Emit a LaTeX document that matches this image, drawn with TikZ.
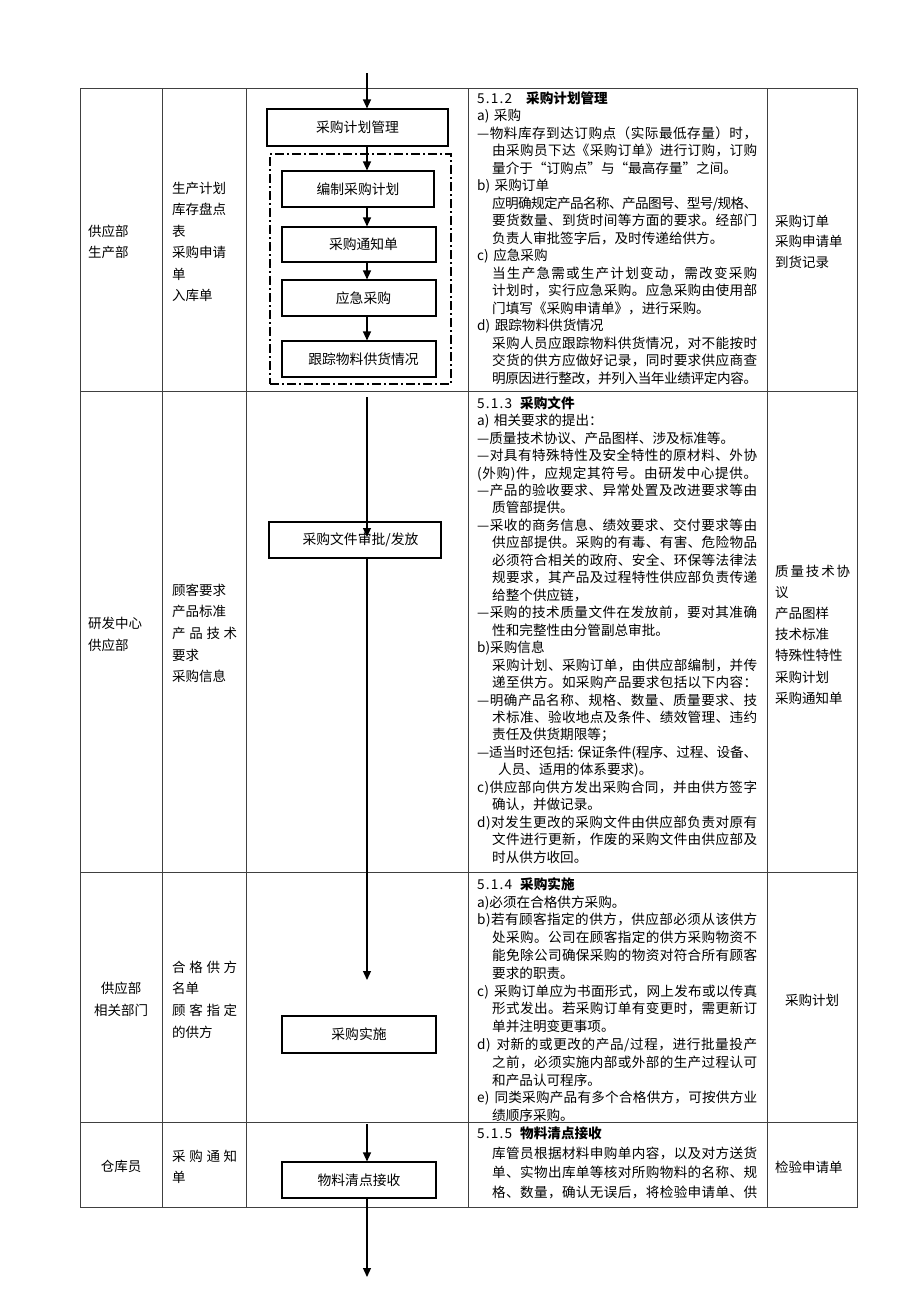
\documentclass[tikz,border=0pt]{standalone}
\usepackage{fontspec}
\setmainfont{Noto Sans CJK SC}
\usetikzlibrary{arrows.meta}
\makeatletter
\def\jbox#1{\jb@first#1\@nil}
\def\jb@first#1{#1\jb@loop}
\def\jb@loop#1{\ifx#1\@nil\else\hskip0pt plus 1fil minus 3pt\relax#1\expandafter\jb@loop\fi}
\makeatother
\newcommand\JF[1]{\leavevmode\hbox to 280pt{\jbox{#1}}}
\newcommand\JI[1]{\leavevmode\hspace*{15pt}\hbox to 265pt{\jbox{#1}}}
\newcommand\NF[1]{\leavevmode#1}
\newcommand\NI[1]{\leavevmode\hspace*{15pt}#1}
\newcommand\SP[2]{\leavevmode\hbox to #1{#2}}
\newcommand\hf{\hfill{}}
\newcommand\secno[3]{\leavevmode\hbox to #1{\hbox to 35pt{\jbox{#2}}\hfil}\textbf{#3}}
\begin{document}
\begin{tikzpicture}[x=1pt,y=-1pt,
  grid/.style={draw=black!75, line width=0.9pt},
  box/.style={draw, line width=1.1pt, inner sep=0, minimum width=154pt, minimum height=36pt, font=\fontsize{13.8}{16}\selectfont},
  dashbox/.style={draw, line width=1.2pt, dash pattern=on 9pt off 3pt on 2pt off 3pt, inner sep=0},
  arr/.style={-{Triangle[length=9pt,width=8pt]}, line width=1.2pt},
  body/.style={anchor=base west, inner sep=0, text width=300pt, align=left, font=\fontsize{13.6}{#1}\selectfont},
  side/.style={anchor=base west, inner sep=0, text width=85pt, align=left, font=\fontsize{13.5}{#1}\selectfont},
  sidec/.style={anchor=base, inner sep=0, text width=82pt, align=center, font=\fontsize{13.5}{#1}\selectfont}]
\useasboundingbox (0,0) rectangle (920,1302);
% table grid
\draw[grid] (80,88) rectangle (857,1207);
\foreach \x in {162,246,468,767} \draw[grid] (\x,88) -- (\x,1207);
\foreach \y in {391,872,1122} \draw[grid] (80,\y) -- (857,\y);

% flow boxes
\coordinate (ax) at (367,0);
\node[box, minimum width=181pt, minimum height=37pt] (b0) at (357.5,127.5) {采购计划管理};
\node[dashbox, minimum width=181pt, minimum height=230pt] (grp) at (360.5,269) {};
\node[box, minimum width=152pt] (b1) at (358,189) {编制采购计划};
\node[box, minimum height=35pt] (b2) at (359,244.5) {\hspace*{9pt}采购通知单};
\node[box] (b3) at (359,298) {\hspace*{9pt}应急采购};
\node[box] (b4) at (359,359) {\hspace*{9pt}跟踪物料供货情况};
\node[box, minimum width=172pt] (b5) at (355,540) {\hspace*{11pt}采购文件审批/发放};
\node[box, minimum height=37pt] (b6) at (359,1034.5) {采购实施};
\node[box] (b7) at (359,1180) {物料清点接收};

% arrows
\coordinate (s0) at (367,73);
\coordinate (s5) at (367,397);
\coordinate (e5) at (367,537);
\coordinate (e6) at (367,980);
\coordinate (s7) at (367,1124);
\coordinate (e8) at (367,1277);
\draw[arr] (s0) -- (b0.north -| ax);
\draw[arr] (b0.south -| ax) -- (b1.north -| ax);
\draw[arr] (b1.south -| ax) -- (b2.north -| ax);
\draw[arr] (b2.south -| ax) -- (b3.north -| ax);
\draw[arr] (b3.south -| ax) -- (b4.north -| ax);
\draw[arr] (s5) -- (e5);
\draw[arr] (b5.south -| ax) -- (e6);
\draw[arr] (s7) -- (b7.north -| ax);
\draw[arr] (b7.south -| ax) -- (e8);

% row 1 side texts
\node[side=21] (c11) at (88,236) {供应部\\生产部};
\node[side=21.5] (c12) at (172,193) {生产计划\\库存盘点\\表\\采购申请\\单\\入库单};
\node[side=20.7] (c15) at (775,226) {采购订单\\采购申请单\\到货记录};
% row 2 side texts
\node[side=22] (c21) at (88,628) {研发中心\\供应部};
\node[side=21.7] (c22) at (172,595) {顾客要求\\产品标准\\\SP{65pt}{产\hf 品\hf 技\hf 术}\\要求\\采购信息};
\node[side=21.2] (c25) at (775,576) {\SP{75pt}{质\hf 量\hf 技\hf 术\hf 协}\\议\\产品图样\\技术标准\\特殊性特性\\采购计划\\采购通知单};
% row 3 side texts
\node[sidec=22] (c31) at (121,993) {供应部\\相关部门};
\node[side=21.7] (c32) at (172,972) {\SP{65pt}{合\hf 格\hf 供\hf 方}\\名单\\\SP{65pt}{顾\hf 客\hf 指\hf 定}\\的供方};
\node[sidec=20] (c35) at (812,1005) {采购计划};
% row 4 side texts
\node[sidec=20] (c41) at (121,1171) {仓库员};
\node[side=21] (c42) at (172,1161) {\SP{65pt}{采\hf 购\hf 通\hf 知}\\单};
\node[side=20] (c45) at (775,1172) {检验申请单};

% row 1 body
\node[body=17.5] (t1) at (477,103.2) {\secno{49pt}{5.1.2}{采购计划管理}\\
\NF{a) 采购}\\
\JF{—物料库存到达订购点（实际最低存量）时，}\\
\JI{由采购员下达《采购订单》进行订购，订购}\\
\NI{量介于“订购点”与“最高存量”之间。}\\
\NF{b) 采购订单}\\
\JI{应明确规定产品名称、产品图号、型号/规格、}\\
\JI{要货数量、到货时间等方面的要求。经部门}\\
\NI{负责人审批签字后，及时传递给供方。}\\
\NF{c) 应急采购}\\
\JI{当生产急需或生产计划变动，需改变采购}\\
\JI{计划时，实行应急采购。应急采购由使用部}\\
\NI{门填写《采购申请单》，进行采购。}\\
\NF{d) 跟踪物料供货情况}\\
\JI{采购人员应跟踪物料供货情况，对不能按时}\\
\JI{交货的供方应做好记录，同时要求供应商查}\\
\JI{明原因进行整改，并列入当年业绩评定内容。}};

% row 2 body
\node[body=17.46] (t2) at (477,408.2) {\secno{43pt}{5.1.3}{采购文件}\\
\NF{a) 相关要求的提出：}\\
\NF{—质量技术协议、产品图样、涉及标准等。}\\
\JF{—对具有特殊特性及安全特性的原材料、外协}\\
\JF{(外购)件，应规定其符号。由研发中心提供。}\\
\JF{—产品的验收要求、异常处置及改进要求等由}\\
\NI{质管部提供。}\\
\JF{—采收的商务信息、绩效要求、交付要求等由}\\
\JI{供应部提供。采购的有毒、有害、危险物品}\\
\JI{必须符合相关的政府、安全、环保等法律法}\\
\JI{规要求，其产品及过程特性供应部负责传递}\\
\NI{给整个供应链，}\\
\JF{—采购的技术质量文件在发放前，要对其准确}\\
\NI{性和完整性由分管副总审批。}\\
\NF{b)采购信息}\\
\JI{采购计划、采购订单，由供应部编制，并传}\\
\JI{递至供方。如采购产品要求包括以下内容：}\\
\JF{—明确产品名称、规格、数量、质量要求、技}\\
\JI{术标准、验收地点及条件、绩效管理、违约}\\
\NI{责任及供货期限等；}\\
\JF{—适当时还包括:~保证条件(程序、过程、设备、}\\
\leavevmode\hspace*{21pt}人员、适用的体系要求)。\\
\JF{c)供应部向供方发出采购合同，并由供方签字}\\
\NI{确认，并做记录。}\\
\JF{d)对发生更改的采购文件由供应部负责对原有}\\
\JI{文件进行更新，作废的采购文件由供应部及}\\
\NI{时从供方收回。}};

% row 3 body
\node[body=17.8] (t3) at (477,889.2) {\secno{43pt}{5.1.4}{采购实施}\\
\NF{a)必须在合格供方采购。}\\
\JF{b)若有顾客指定的供方，供应部必须从该供方}\\
\JI{处采购。公司在顾客指定的供方采购物资不}\\
\JI{能免除公司确保采购的物资对符合所有顾客}\\
\NI{要求的职责。}\\
\JF{c)~采购订单应为书面形式，网上发布或以传真}\\
\JI{形式发出。若采购订单有变更时，需更新订}\\
\NI{单并注明变更事项。}\\
\JF{d)~对新的或更改的产品/过程，进行批量投产}\\
\JI{之前，必须实施内部或外部的生产过程认可}\\
\NI{和产品认可程序。}\\
\JF{e)~同类采购产品有多个合格供方，可按供方业}\\
\NI{绩顺序采购。}};

% row 4 body
\node[body=19.5] (t4) at (477,1138.5) {\secno{43pt}{5.1.5}{物料清点接收}\\
\JI{库管员根据材料申购单内容，以及对方送货}\\
\JI{单、实物出库单等核对所购物料的名称、规}\\
\JI{格、数量，确认无误后，将检验申请单、供}};
\end{tikzpicture}
\end{document}
